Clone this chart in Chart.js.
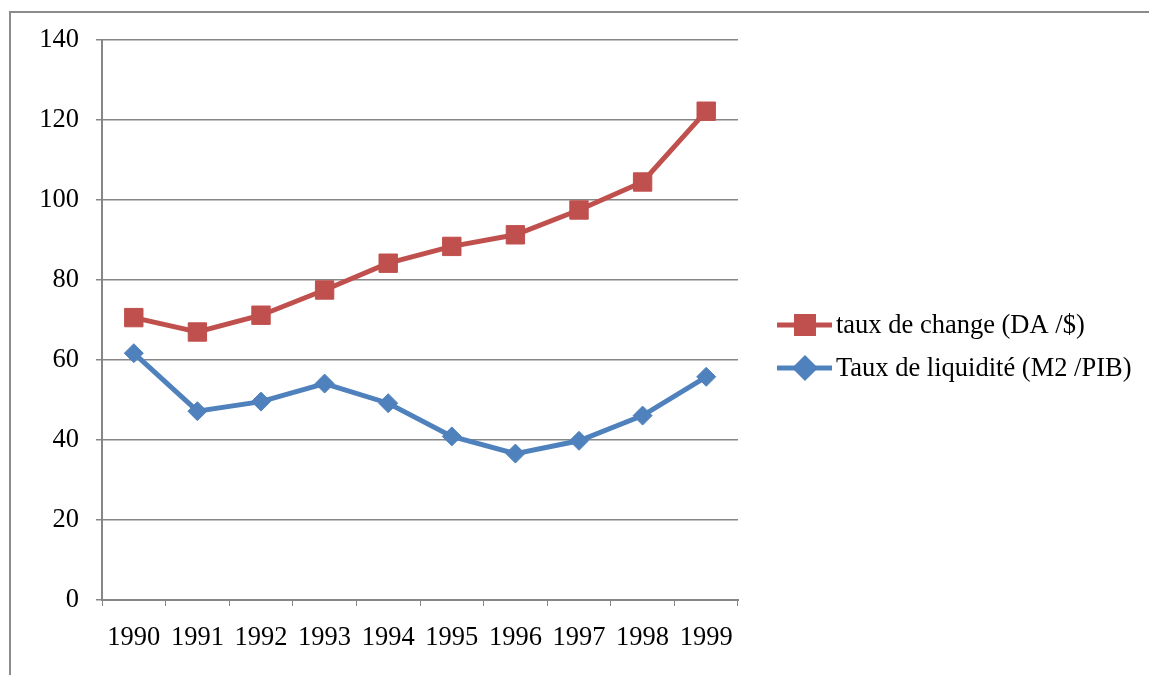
<!DOCTYPE html>
<html>
<head>
<meta charset="utf-8">
<script src="https://cdn.jsdelivr.net/npm/chart.js@4/dist/chart.umd.min.js"></script>
<style>
  html, body { margin: 0; padding: 0; background: #fff; }
  #wrap { width: 1149px; height: 675px; position: relative; }
</style>
</head>
<body>
<div id="wrap"><canvas id="tauxChart"></canvas></div>
<script>
// donnees
const annees = ['1990', '1991', '1992', '1993', '1994', '1995', '1996', '1997', '1998', '1999'];
const tauxChange = [70.6, 67, 71.2, 77.5, 84.2, 88.4, 91.3, 97.5, 104.5, 122.2];
const tauxLiquidite = [61.7, 47.2, 49.6, 54.1, 49.2, 40.9, 36.6, 39.8, 46.1, 55.8];
const yTicks = [0, 20, 40, 60, 80, 100, 120, 140];

const rouge = '#C0504D';
const bleu = '#4F81BD';
const gris = '#868686';
const police = '"Liberation Serif", "Times New Roman", serif';

// cadre gris + legende dessinee a la main (ligne + marqueur)
const cadreLegende = {
    id: 'cadreLegende',
    beforeDraw(chart) {
        const c = chart.ctx;
        c.save();
        c.strokeStyle = '#8c8c8c';
        c.lineWidth = 2;
        c.beginPath();
        c.moveTo(10, 675);
        c.lineTo(10, 12);
        c.lineTo(1149, 12);
        c.stroke();
        c.restore();
    },
    afterDraw(chart) {
        const c = chart.ctx;
        const rows = [325, 368];
        c.save();
        chart.data.datasets.forEach(function(ds, i) {
            const y = rows[i];
            c.strokeStyle = ds.borderColor;
            c.lineWidth = 5;
            c.beginPath();
            c.moveTo(777, y);
            c.lineTo(832, y);
            c.stroke();
            Chart.helpers.drawPoint(c, {
                pointStyle: ds.pointStyle,
                radius: ds.pointStyle === 'rect' ? 12 : 9.5,
                borderWidth: 1
            }, 805, y);
            c.fillStyle = ds.backgroundColor;
            c.fill();
            c.fillStyle = '#000';
            c.font = '26.5px ' + police;
            c.textBaseline = 'middle';
            c.textAlign = 'left';
            c.fillText(ds.label, 836, y + 1);
        });
        c.restore();
    }
};

const ctx = document.getElementById('tauxChart').getContext('2d');
const tauxChart = new Chart(ctx, {
    type: 'line',
    data: {
        labels: annees,
        datasets: [{
            label: 'taux de change (DA /$)',
            data: tauxChange,
            borderColor: rouge,
            backgroundColor: rouge,
            borderWidth: 5,
            pointStyle: 'rect',
            pointRadius: 13,
            pointBorderWidth: 1,
            tension: 0
        }, {
            label: 'Taux de liquidité (M2 /PIB)',
            data: tauxLiquidite,
            borderColor: bleu,
            backgroundColor: bleu,
            borderWidth: 5,
            pointStyle: 'rectRot',
            pointRadius: 9.5,
            pointBorderWidth: 1,
            tension: 0
        }]
    },
    options: {
        responsive: true,
        maintainAspectRatio: false,
        animation: false,
        layout: {
            padding: { left: 10, top: 40, right: 411, bottom: 0 }
        },
        plugins: {
            legend: { display: false },
            tooltip: { enabled: false }
        },
        scales: {
            x: {
                offset: true,
                grid: {
                    offset: true,
                    drawOnChartArea: false,
                    color: gris,
                    tickLength: 6
                },
                border: { color: gris, width: 2 },
                ticks: {
                    color: '#000',
                    font: { family: police, size: 26.5 },
                    padding: 16,
                    maxRotation: 0
                },
                afterFit: function(scale) {
                    scale.height = 75;
                }
            },
            y: {
                min: 0,
                max: 140,
                afterBuildTicks: function(scale) {
                    scale.ticks = yTicks.map(function(v) { return { value: v }; });
                },
                grid: {
                    color: gris,
                    lineWidth: 1.5,
                    tickLength: 6
                },
                border: { color: gris, width: 2 },
                ticks: {
                    color: '#000',
                    font: { family: police, size: 26.5 },
                    padding: 17
                },
                afterFit: function(scale) {
                    scale.width = 92;
                }
            }
        }
    },
    plugins: [cadreLegende]
});
</script>
</body>
</html>
